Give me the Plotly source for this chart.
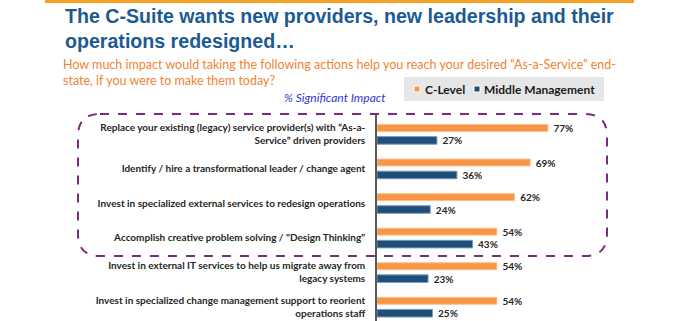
import plotly.graph_objects as go

categories = [
    "Replace your existing (legacy) service provider(s) with \u201cAs-a-<br>Service\u201d driven providers",
    "Identify / hire a transformational leader / change agent",
    "Invest in specialized external services to redesign operations",
    "Accomplish creative problem solving / \"Design Thinking\"",
    "Invest in external IT services to help us migrate away from<br>legacy systems",
    "Invest in specialized change management support to reorient<br>operations staff",
]
c_level = [77, 69, 62, 54, 54, 54]
middle_mgmt = [27, 36, 24, 43, 23, 25]
series_names = ["C-Level", "Middle Management"]

title_text = "The C-Suite wants new providers, new leadership and their<br>operations redesigned\u2026"
subtitle_text = ("How much impact would taking the following actions help you reach your desired "
                 "\u201cAs-a-Service\u201d end-<br>state, if you were to make them today?")
measure_text = "% Significant Impact"

W, H = 675, 321
L, R, T, B = 377, 0, 115, 0
PW, PH = W - L - R, H - T - B


def px(x):
    return (x - L) / PW


def py(y):
    return (H - B - y) / PH


FONT = "Lato, 'Liberation Sans', sans-serif"
ORANGE = "#F79646"
NAVY = "#1F4E79"
ORANGE_EDGE = "#FBBF8C"
NAVY_EDGE = "#7A9CC0"

fig = go.Figure()
fig.add_bar(
    y=categories, x=c_level, orientation="h", name=series_names[0],
    marker=dict(color=ORANGE, line=dict(color=ORANGE_EDGE, width=1)),
    width=0.2, offset=-0.28,
    texttemplate=" <b>%{x}%</b>", textposition="outside", constraintext="none",
    textfont=dict(family=FONT, size=10, color="#262626"),
    cliponaxis=False, hoverinfo="skip", showlegend=False,
)
fig.add_bar(
    y=categories, x=middle_mgmt, orientation="h", name=series_names[1],
    marker=dict(color=NAVY, line=dict(color=NAVY_EDGE, width=1)),
    width=0.22, offset=0.07,
    texttemplate=" <b>%{x}%</b>", textposition="outside", constraintext="none",
    textfont=dict(family=FONT, size=10, color="#262626"),
    cliponaxis=False, hoverinfo="skip", showlegend=False,
)

# rounded dashed highlight box
x0, x1, y0, y1 = px(78), px(607), py(256), py(114)
rx, ry = 22 / PW, 22 / PH
path = (f"M {x0+rx},{y1} L {x1-rx},{y1} Q {x1},{y1} {x1},{y1-ry} "
        f"L {x1},{y0+ry} Q {x1},{y0} {x1-rx},{y0} L {x0+rx},{y0} "
        f"Q {x0},{y0} {x0},{y0+ry} L {x0},{y1-ry} Q {x0},{y1} {x0+rx},{y1} Z")

legend_font = dict(family=FONT, size=12, color="#1A1A1A", weight="bold")

fig.update_layout(
    width=W, height=H,
    margin=dict(l=L, r=R, t=T, b=B),
    paper_bgcolor="white", plot_bgcolor="white",
    barmode="overlay",
    showlegend=False,
    xaxis=dict(range=[0, PW / 2.22], visible=False, fixedrange=True),
    yaxis=dict(
        range=[5.405, -0.555], showline=True, linecolor="#595959", linewidth=1.5,
        ticks="", showgrid=False, zeroline=False, ticklabelstandoff=8,
        tickfont=dict(family=FONT, size=10, color="#262626", weight="bold"),
    ),
    shapes=[
        dict(type="rect", xref="paper", yref="paper", x0=px(45), x1=px(634),
             y0=py(3), y1=py(0), fillcolor="#F5A023", line=dict(width=0), layer="above"),
        dict(type="path", xref="paper", yref="paper", path=path,
             line=dict(color="#7B2C82", width=2, dash="dash"), fillcolor="rgba(0,0,0,0)"),
        # legend box and swatches
        dict(type="rect", xref="paper", yref="paper", x0=px(404), x1=px(604),
             y0=py(101), y1=py(77), fillcolor="#E6E6E6", line=dict(width=0)),
        dict(type="rect", xref="paper", yref="paper", x0=px(414), x1=px(420),
             y0=py(92), y1=py(86), fillcolor=ORANGE, line=dict(color="white", width=1)),
        dict(type="rect", xref="paper", yref="paper", x0=px(474), x1=px(480),
             y0=py(92), y1=py(86), fillcolor=NAVY, line=dict(color="white", width=1)),
    ],
    annotations=[
        dict(xref="paper", yref="paper", x=px(63), y=py(3), xanchor="left", yanchor="top",
             align="left", showarrow=False, text=f"<b>{title_text}</b>",
             font=dict(family="'Liberation Sans', Arial, sans-serif", size=19.6, color="#1C5A94")),
        dict(xref="paper", yref="paper", x=px(61), y=py(55), xanchor="left", yanchor="top",
             align="left", showarrow=False, text=subtitle_text,
             font=dict(family=FONT, size=12.5, color="#EF8433")),
        dict(xref="paper", yref="paper", x=px(282), y=py(97), xanchor="left", yanchor="middle",
             showarrow=False, text=f"<i>{measure_text}</i>",
             font=dict(family=FONT, size=12, color="#3434D6")),
        dict(xref="paper", yref="paper", x=px(423), y=py(89), xanchor="left", yanchor="middle",
             showarrow=False, text=series_names[0], font=legend_font),
        dict(xref="paper", yref="paper", x=px(482), y=py(89), xanchor="left", yanchor="middle",
             showarrow=False, text=series_names[1], font=legend_font),
    ],
)

fig.write_html("out.html")
